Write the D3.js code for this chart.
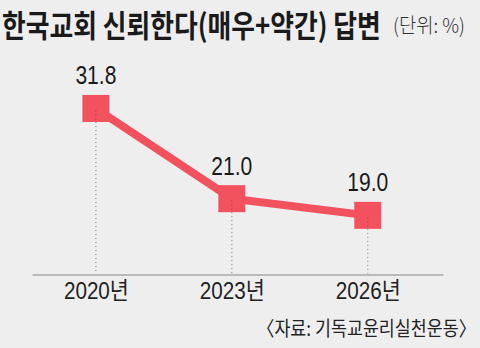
<!DOCTYPE html>
<html>
<head>
<meta charset="utf-8">
<script src="https://cdn.jsdelivr.net/npm/d3@7/dist/d3.min.js"></script>
<style>
  html, body { margin: 0; padding: 0; background: #eeeeee; }
  svg { display: block; }
</style>
</head>
<body>
<svg id="chart" width="480" height="348"></svg>
<script>
// ---- data ----
const years = [2020, 2023, 2026];
const values = [31.8, 21.0, 19.0];
const tickLabels = ["2020년", "2023년", "2026년"];
const valueLabels = ["31.8", "21.0", "19.0"];
const title = "한국교회 신뢰한다(매우+약간) 답변";
const unitText = "(단위: %)";
const sourceText = "〈자료: 기독교윤리실천운동〉";

const data = years.map((y, i) => ({ year: y, value: values[i], label: valueLabels[i] }));

const svg = d3.select("#chart");
const W = 480, H = 348;
svg.append("rect").attr("width", W).attr("height", H).attr("fill", "#eeeeee");

const red = "#f2525e";
const axisY = 274.5;

const x = d3.scaleLinear()
  .domain([years[0] - 1.41, years[years.length - 1] + 1.66])
  .range([32, 443]);
const y = d3.scaleLinear().domain([0, 40]).range([374, 40]);

// squeeze a text horizontally to a target width, anchored at (ax, ay)
function squeeze(sel, ax, ay, target, anchor) {
  sel.each(function () {
    const w = this.getComputedTextLength();
    const k = Math.min(1, target / w);
    d3.select(this)
      .attr("x", 0).attr("y", 0)
      .attr("text-anchor", anchor || "start")
      .attr("transform", `translate(${ax},${ay}) scale(${k},1)`);
  });
}

// title
const t1 = svg.append("text")
  .attr("font-family", "'Noto Sans CJK KR', sans-serif")
  .attr("font-weight", 700)
  .attr("font-size", 31)
  .attr("fill", "#1a1a1a")
  .text(title);
squeeze(t1, 2, 37, 379);

const t2 = svg.append("text")
  .attr("font-family", "'Noto Sans CJK KR', sans-serif")
  .attr("font-weight", 300)
  .attr("font-size", 20)
  .attr("fill", "#333")
  .text(unitText);
squeeze(t2, 393, 33, 72);

// x axis
const axis = d3.axisBottom(x)
  .tickValues(years)
  .tickSize(0)
  .tickFormat((d, i) => tickLabels[i]);

const gx = svg.append("g").attr("transform", `translate(0,${axisY})`).call(axis);
gx.select(".domain").attr("stroke", "#a8a8a8").attr("stroke-width", 1.6);
gx.selectAll(".tick text")
  .attr("dy", 0)
  .attr("font-family", "'Liberation Sans', 'Noto Sans CJK KR', sans-serif")
  .attr("font-size", 24)
  .attr("fill", "#222")
  .each(function () {
    const w = this.getComputedTextLength();
    const k = Math.min(1, 65 / w);
    d3.select(this).attr("y", 0).attr("transform", `translate(0,24) scale(${k},1)`);
  });

// dotted guides
const ms = 27;
svg.selectAll("line.guide").data(data).join("line")
  .attr("class", "guide")
  .attr("x1", d => x(d.year)).attr("x2", d => x(d.year))
  .attr("y1", d => y(d.value) + ms / 2).attr("y2", axisY - 1)
  .attr("stroke", "#777")
  .attr("stroke-width", 1)
  .attr("stroke-dasharray", "1,3");

// line
const line = d3.line().x(d => x(d.year)).y(d => y(d.value));
svg.append("path")
  .datum(data)
  .attr("d", line)
  .attr("fill", "none")
  .attr("stroke", red)
  .attr("stroke-width", 8);

// markers
svg.selectAll("rect.mark").data(data).join("rect")
  .attr("class", "mark")
  .attr("x", d => x(d.year) - ms / 2)
  .attr("y", d => y(d.value) - ms / 2)
  .attr("width", ms).attr("height", ms)
  .attr("fill", red);

svg.selectAll("line.guide2").data(data).join("line")
  .attr("class", "guide2")
  .attr("x1", d => x(d.year)).attr("x2", d => x(d.year))
  .attr("y1", d => y(d.value) + 2).attr("y2", d => y(d.value) + ms / 2)
  .attr("stroke", "#9a3a40")
  .attr("stroke-width", 1)
  .attr("stroke-dasharray", "1,3");

// value labels
svg.selectAll("text.val").data(data).join("text")
  .attr("class", "val")
  .attr("font-family", "'Liberation Sans', sans-serif")
  .attr("font-size", 26)
  .attr("fill", "#1a1a1a")
  .text(d => d.label)
  .each(function (d) {
    const w = this.getComputedTextLength();
    const k = Math.min(1, 41 / w);
    d3.select(this).attr("text-anchor", "middle")
      .attr("transform", `translate(${x(d.year)},${y(d.value) - 24}) scale(${k},1)`);
  });

// source
const t3 = svg.append("text")
  .attr("font-family", "'Noto Sans CJK KR', sans-serif")
  .attr("font-size", 20)
  .attr("fill", "#222")
  .text(sourceText);
squeeze(t3, 476, 336, 219, "end");
</script>
</body>
</html>
